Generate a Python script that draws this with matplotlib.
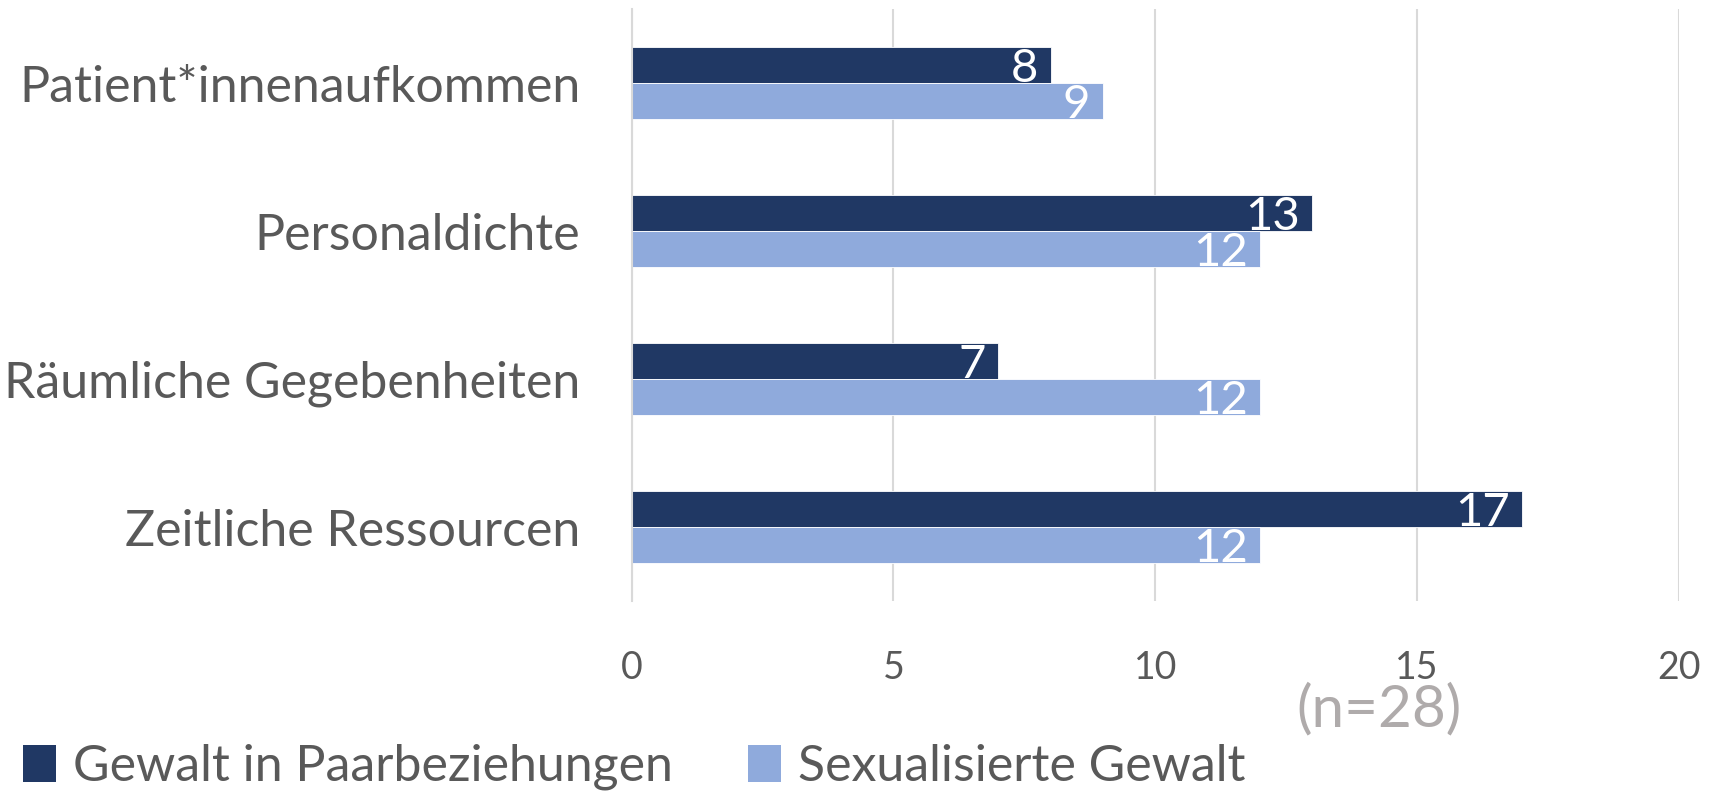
import matplotlib
matplotlib.use("Agg")
import matplotlib.pyplot as plt
import numpy as np
from matplotlib.patches import Patch

categories = ["Patient*innenaufkommen", "Personaldichte", "Räumliche Gegebenheiten", "Zeitliche Ressourcen"]
series_names = ["Gewalt in Paarbeziehungen", "Sexualisierte Gewalt"]
gewalt_paar = [8, 13, 7, 17]
sex_gewalt = [9, 12, 12, 12]
x_ticks = [0, 5, 10, 15, 20]
note = "(n=28)"

dark = "#203864"
light = "#8FAADC"
txt = "#595959"
grid = "#D9D9D9"

plt.rcParams['font.family'] = ['Lato', 'DejaVu Sans']

fig = plt.figure(figsize=(17.13, 7.91), dpi=100)
ax = fig.add_axes([0.3687, 0.2402, 0.9802 - 0.3687, 0.9886 - 0.2402])

n = len(categories)
y = np.arange(n)
h = 0.245
b1 = ax.barh(y - h / 2, gewalt_paar, height=h, color=dark, edgecolor="white", linewidth=0.6, zorder=2)
b2 = ax.barh(y + h / 2, sex_gewalt, height=h, color=light, edgecolor="white", linewidth=0.6, zorder=2)

for bars, vals in ((b1, gewalt_paar), (b2, sex_gewalt)):
    for rect, v in zip(bars, vals):
        ax.annotate(str(v), xy=(v, rect.get_y() + rect.get_height() / 2),
                    xytext=(-9, -3), textcoords="offset points",
                    ha="right", va="center", color="white", fontsize=34, zorder=3)

ax.set_ylim(n - 0.5, -0.5)
ax.set_xlim(0, 20)
ax.set_xticks(x_ticks)
ax.set_xticklabels([str(t) for t in x_ticks])
ax.set_yticks(y)
ax.set_yticklabels(categories)
ax.tick_params(axis="y", length=0, pad=37, labelsize=36, labelcolor=txt)
ax.tick_params(axis="x", length=0, pad=35, labelsize=27, labelcolor=txt)
ax.grid(axis="x", color=grid, linewidth=1.5, zorder=0)
ax.set_axisbelow(True)
for s in ["top", "right", "bottom"]:
    ax.spines[s].set_visible(False)
ax.spines["left"].set_color(grid)
ax.spines["left"].set_linewidth(1.5)

fig.text(1379 / 1713, 1 - 710 / 791, note, ha="center", va="center", fontsize=42, color="#AFABAB")

handles = [Patch(facecolor=dark), Patch(facecolor=light)]
fig.legend(handles, series_names, loc="center left", bbox_to_anchor=(0.002, 1 - 767 / 791),
           ncol=2, frameon=False, fontsize=36, labelcolor=txt,
           handlelength=0.65, handleheight=0.75, handletextpad=0.35, columnspacing=1.5, borderaxespad=0)

fig.savefig("out.png", dpi=100)
